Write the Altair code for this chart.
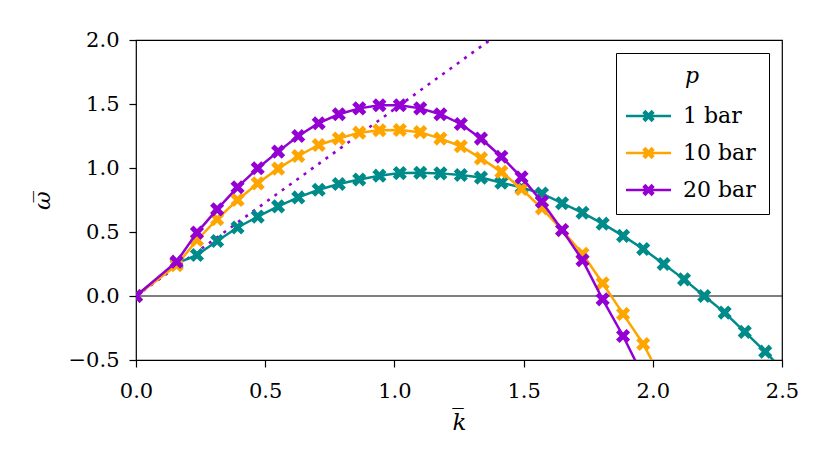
import altair as alt
import pandas as pd

# ---- data ----
k_vals = [0.0, 0.157, 0.236, 0.314, 0.393, 0.471, 0.550, 0.628, 0.707, 0.785,
          0.864, 0.942, 1.021, 1.100, 1.178, 1.257, 1.335, 1.414, 1.492, 1.571,
          1.649, 1.728, 1.806, 1.885, 1.963, 2.042, 2.121, 2.199, 2.278, 2.356,
          2.435, 2.513]

omega_1bar = [0.0, 0.255, 0.32, 0.43, 0.535, 0.62, 0.70, 0.77, 0.83, 0.875,
              0.91, 0.94, 0.96, 0.963, 0.958, 0.945, 0.925, 0.885, 0.848, 0.80,
              0.725, 0.65, 0.565, 0.47, 0.367, 0.25, 0.13, 0.0, -0.13, -0.28,
              -0.435, -0.6]

omega_10bar = [0.0, 0.24, 0.4375, 0.60, 0.75, 0.88, 0.995, 1.094, 1.18, 1.23,
               1.276, 1.295, 1.297, 1.28, 1.23, 1.17, 1.075, 0.97, 0.836, 0.685,
               0.515, 0.33, 0.10, -0.14, -0.375, -0.68]

omega_20bar = [0.0, 0.268, 0.495, 0.677, 0.85, 0.998, 1.128, 1.25, 1.35, 1.42,
               1.466, 1.49, 1.49, 1.466, 1.42, 1.344, 1.23, 1.088, 0.927, 0.737,
               0.515, 0.28, -0.026, -0.3125, -0.63]

series_names = ["1 bar", "10 bar", "20 bar"]
series_colors = ["#008b8b", "#ffa500", "#9400d3"]

guide_k = [0.0, 1.37]
guide_omega = [0.0, 2.0]

x_ticks = [0.0, 0.5, 1.0, 1.5, 2.0, 2.5]
y_ticks = [-0.5, 0.0, 0.5, 1.0, 1.5, 2.0]

# ---- build table ----
rows = []
for name, vals in zip(series_names, [omega_1bar, omega_10bar, omega_20bar]):
    for k, w in zip(k_vals, vals):
        rows.append({"series": name, "k": k, "omega": w})
df = pd.DataFrame(rows)
guide_df = pd.DataFrame({"k": guide_k, "omega": guide_omega})
zero_df = pd.DataFrame({"omega": [0.0]})

# ---- marker shapes ----
X_PTS = [(-0.5, -1), (0, -0.5), (0.5, -1), (1, -0.5), (0.5, 0), (1, 0.5),
         (0.5, 1), (0, 0.5), (-0.5, 1), (-1, 0.5), (-0.5, 0), (-1, -0.5)]


def poly(pts, s=1.0, cx=0.0, cy=0.0):
    return "M" + " L".join(f"{cx + x * s:.3f},{cy + y * s:.3f}" for x, y in pts) + " Z"


marker_path = poly(X_PTS)
legend_path = "M-1.23,-0.1 L2.23,-0.1 L2.23,0.1 L-1.23,0.1 Z " + poly(X_PTS, s=0.48, cx=0.5)

FONT = "DejaVu Serif"

color_scale = alt.Scale(domain=series_names, range=series_colors)

x_axis = alt.Axis(values=x_ticks, format=".1f", title="k\u0305", titleFont=FONT,
                  titleFontSize=23, titleFontStyle="italic", titleFontWeight="normal",
                  titleColor="black", titleX=323, titleY=69, titleBaseline="alphabetic",
                  titleAlign="center", labelFont=FONT, labelFontSize=21, labelColor="black",
                  labelPadding=13, tickSize=7, tickWidth=1.2, tickColor="black",
                  domain=False, grid=False, labelFlush=False, labelOverlap=False)
y_axis = alt.Axis(values=y_ticks, format=".1f", title="\u03c9\u0305", titleFont=FONT,
                  titleFontSize=23, titleFontStyle="italic", titleFontWeight="normal",
                  titleColor="black", titleX=-87, titleY=160, titleAngle=270,
                  titleBaseline="alphabetic", titleAlign="center",
                  labelFont=FONT, labelFontSize=21, labelColor="black",
                  labelPadding=10, tickSize=7, tickWidth=1.2, tickColor="black",
                  domain=False, grid=False, labelFlush=False, labelOverlap=False)

xenc = alt.X("k:Q", scale=alt.Scale(domain=[0, 2.5], nice=False, zero=False), axis=x_axis)
yenc = alt.Y("omega:Q", scale=alt.Scale(domain=[-0.5, 2.0], nice=False, zero=False), axis=y_axis)

legend_def = alt.Legend(title="p", orient="none", legendX=480, legendY=13,
                        symbolType=legend_path, symbolSize=676, symbolStrokeWidth=0,
                        labelOffset=28, padding=13, rowPadding=13, titlePadding=15,
                        strokeColor="black", fillColor="white", cornerRadius=0,
                        titleFont=FONT, titleFontSize=22,
                        titleFontStyle="italic", titleFontWeight="normal",
                        titleColor="black", titleAnchor="middle", titleAlign="center",
                        labelFont=FONT, labelFontSize=22, labelColor="black")

zero_rule = alt.Chart(zero_df).mark_rule(color="black", strokeWidth=1.2).encode(
    y=alt.Y("omega:Q", scale=alt.Scale(domain=[-0.5, 2.0], nice=False, zero=False), axis=y_axis)
)

guide = alt.Chart(guide_df).mark_line(color="#9400d3", strokeDash=[3, 6], strokeWidth=2.6,
                                      clip=True).encode(x=xenc, y=yenc)

layers = [zero_rule, guide]
for name, col in zip(series_names, series_colors):
    sub = alt.Chart(df).transform_filter(alt.datum.series == name)
    line = sub.mark_line(strokeWidth=2.5, clip=True, color=col).encode(x=xenc, y=yenc)
    pts = sub.mark_point(filled=True, opacity=1, size=200, strokeWidth=0, clip=True).encode(
        x=xenc, y=yenc,
        color=alt.Color("series:N", scale=color_scale, legend=legend_def),
        shape=alt.value(marker_path))
    layers += [line, pts]

chart = alt.layer(*layers).properties(
    width=646, height=320,
    autosize=alt.AutoSizeParams(type="none"),
    padding={"left": 128, "top": 32, "right": 40, "bottom": 90},
    background="white",
).configure_view(stroke="black", strokeWidth=1.2)

chart.save("out.html", embed_options={"renderer": "svg", "actions": False})
